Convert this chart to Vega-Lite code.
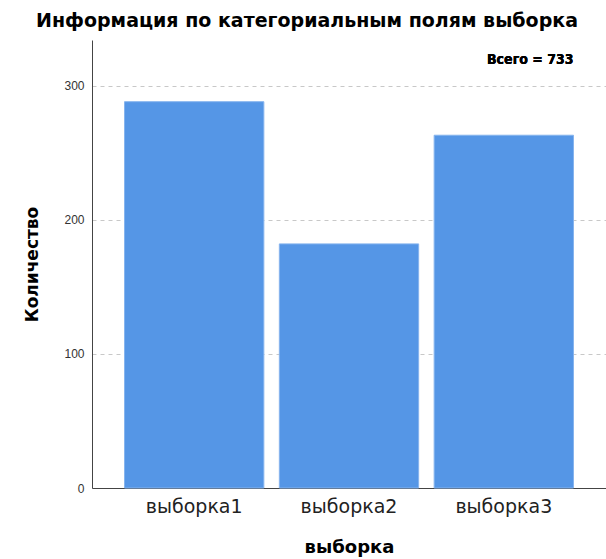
{
  "$schema": "https://vega.github.io/schema/vega-lite/v6.json",
  "autosize": "none",
  "width": 514,
  "height": 448,
  "padding": {"left": 92, "top": 40, "right": 0, "bottom": 71},
  "background": "white",
  "title": {
    "text": "Информация по категориальным полям выборка",
    "font": "DejaVu Sans",
    "fontSize": 19,
    "fontWeight": "bold",
    "color": "#000000",
    "anchor": "middle",
    "dx": -42,
    "offset": 9
  },
  "config": {
    "view": {"stroke": null},
    "font": "Liberation Sans"
  },
  "data": {
    "values": [
      {"выборка": "выборка1", "Количество": 288},
      {"выборка": "выборка2", "Количество": 182},
      {"выборка": "выборка3", "Количество": 263}
    ]
  },
  "layer": [
    {
      "mark": {"type": "bar", "color": "#5596e6", "stroke": "#86b4ee", "strokeWidth": 1},
      "encoding": {
        "x": {
          "field": "выборка",
          "type": "nominal",
          "scale": {"paddingInner": 0.1, "paddingOuter": 0.21},
          "axis": {
            "labelAngle": 0,
            "labelFont": "DejaVu Sans",
            "labelFontSize": 19,
            "labelColor": "#222222",
            "labelPadding": 9,
            "ticks": false,
            "domainColor": "#444444",
            "title": "выборка",
            "titleFont": "DejaVu Sans",
            "titleFontSize": 18,
            "titleFontWeight": "bold",
            "titleColor": "#000000",
            "titlePadding": 22
          }
        },
        "y": {
          "field": "Количество",
          "type": "quantitative",
          "scale": {"domain": [0, 334], "nice": false},
          "axis": {
            "values": [0, 100, 200, 300],
            "labelFontSize": 12,
            "labelColor": "#333333",
            "labelPadding": 8,
            "ticks": false,
            "domainColor": "#444444",
            "grid": true,
            "gridDash": [4, 4],
            "gridColor": "#c8c8c8",
            "title": "Количество",
            "titleFont": "DejaVu Sans",
            "titleFontSize": 17,
            "titleFontWeight": "bold",
            "titleColor": "#000000",
            "titlePadding": 22
          }
        }
      }
    },
    {
      "mark": {
        "type": "text",
        "text": "Всего =  733",
        "font": "'DejaVu Sans Condensed', 'Liberation Sans'",
        "align": "right",
        "baseline": "middle",
        "fontSize": 14,
        "fontWeight": "bold",
        "color": "#000000"
      },
      "encoding": {
        "x": {"datum": "выборка3", "type": "nominal", "bandPosition": 1},
        "y": {"datum": 319, "type": "quantitative"}
      }
    }
  ]
}
